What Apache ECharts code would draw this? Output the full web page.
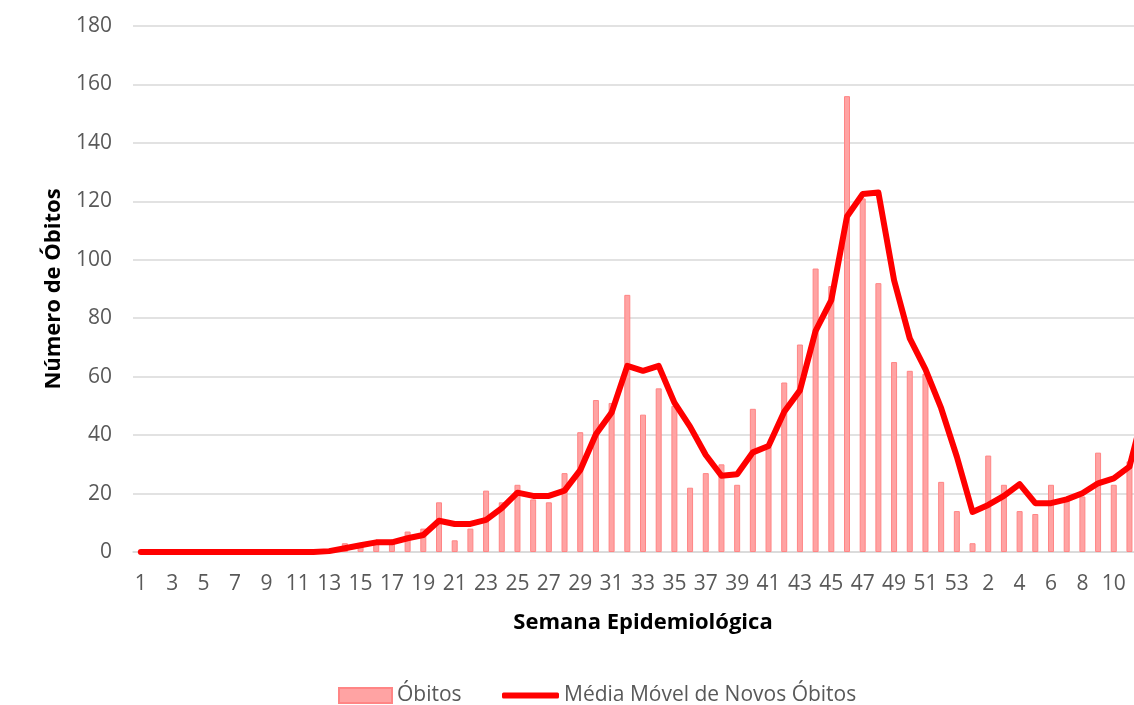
<!DOCTYPE html>
<html>
<head>
<meta charset="utf-8">
<script src="https://cdn.jsdelivr.net/npm/echarts@6/dist/echarts.min.js"></script>
<style>
html,body{margin:0;padding:0;overflow:hidden;background:#fff;width:1134px;height:705px;}
#c{width:1186px;height:705px;}
</style>
</head>
<body>
<div id="c"></div>
<script>
// Semana epidemiológica: 1..53 (ano 1) e 1..12 (ano 2)
const weeks = [
 '1','2','3','4','5','6','7','8','9','10','11','12','13','14','15','16','17','18','19','20',
 '21','22','23','24','25','26','27','28','29','30','31','32','33','34','35','36','37','38','39','40',
 '41','42','43','44','45','46','47','48','49','50','51','52','53',
 '1','2','3','4','5','6','7','8','9','10','11','12'
];
const obitos = [
 0,0,0,0,0,0,0,0,0,0,0,0,0,3,2,4,4,7,8,17,
 4,8,21,17,23,18,17,27,41,52,51,88,47,56,50,22,27,30,23,49,
 36,58,71,97,91,156,121,92,65,62,61,24,14,
 3,33,23,14,13,23,18,19,34,23,31,62
];
const mediaMovel = [
 0,0,0,0,0,0,0,0,0,0,0,0,0.3,1.3,2.3,3.3,3.3,4.7,5.8,10.7,
 9.6,9.6,11,15,20.3,19.2,19.2,21,28,40.3,47.7,63.7,62,63.7,51.1,42.9,33.2,26.1,26.6,34.1,
 36.3,48,55.3,75.7,86.2,114.8,122.5,123,93,73.1,62.5,49.2,32.6,
 13.7,16.1,19.2,23.2,16.7,16.7,18,20.1,23.5,25.2,29.2,50
];
const yTicks = {min:0, max:180, interval:20};

const FONT = 'Open Sans';
const legendText = {fontFamily:FONT, fontSize:21, color:'#595959'};
const chart = echarts.init(document.getElementById('c'), null, {renderer:'canvas'});
chart.setOption({
  animation:false,
  textStyle:{fontFamily:FONT},
  grid:{left:133, right:33, top:26, bottom:153, containLabel:false},
  legend:[
    {
      left:333, top:680, itemWidth:53, itemHeight:15,
      textStyle:legendText,
      data:[{name:'Óbitos', icon:'rect'}]
    },
    {
      left:497, top:680, itemWidth:57, itemHeight:6,
      textStyle:legendText,
      data:[{name:'Média Móvel de Novos Óbitos', icon:'roundRect',
             itemStyle:{color:'#ff0000', borderWidth:0}}]
    }
  ],
  xAxis:{
    type:'category', data:weeks, boundaryGap:true,
    name:'Semana Epidemiológica', nameLocation:'middle', nameGap:60,
    nameTextStyle:{fontFamily:FONT, fontSize:22, fontWeight:'bold', color:'#000'},
    axisLine:{lineStyle:{color:'#d9d9d9', width:1.5}},
    axisTick:{show:false},
    axisLabel:{interval:1, margin:22, fontFamily:FONT, fontSize:21, color:'#595959'}
  },
  yAxis:{
    type:'value', min:yTicks.min, max:yTicks.max, interval:yTicks.interval,
    name:'Número de Óbitos', nameLocation:'middle', nameGap:68, nameRotate:90,
    nameTextStyle:{fontFamily:FONT, fontSize:22, fontWeight:'bold', color:'#000'},
    axisLine:{show:false}, axisTick:{show:false},
    splitLine:{lineStyle:{color:'#d9d9d9', width:1.5}},
    axisLabel:{margin:21, fontFamily:FONT, fontSize:21, color:'#595959'}
  },
  series:[
    {
      name:'Óbitos', type:'bar', data:obitos, barWidth:6,
      itemStyle:{color:'#ffa3a3', borderColor:'#ff8585', borderWidth:1}
    },
    {
      name:'Média Móvel de Novos Óbitos', type:'line', data:mediaMovel,
      symbol:'none', smooth:false,
      lineStyle:{color:'#ff0000', width:6, cap:'round', join:'round'},
      itemStyle:{color:'#ff0000'}
    }
  ]
});
</script>
</body>
</html>
